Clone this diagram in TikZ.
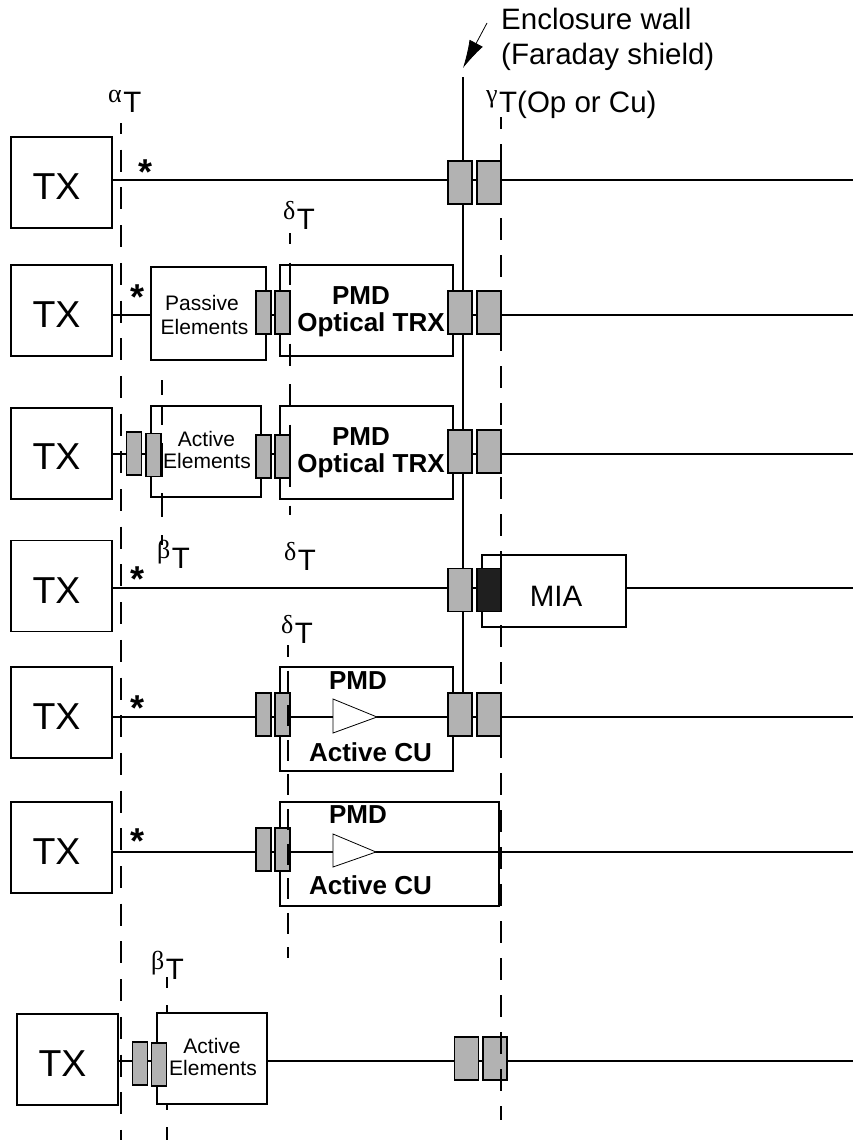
\documentclass[tikz,border=0pt]{standalone}
\usepackage{fontspec}
\setmainfont{Liberation Sans}
\newfontfamily\greekfont{Liberation Serif}
\usepackage{tikz}
\usetikzlibrary{positioning, arrows.meta}

\tikzset{
    boxnode/.style={draw=black, line width=1.8pt, fill=white, inner sep=0pt},
    connbig/.style={draw=black, line width=1.8pt, fill=black!30, inner sep=0pt, minimum width=24pt, minimum height=43pt},
    connsmall/.style={draw=black, line width=1.8pt, fill=black!30, inner sep=0pt, minimum width=15pt, minimum height=43pt},
    wire/.style={line width=1.8pt},
    dashline/.style={line width=1.6pt},
    labelbig/.style={inner sep=0pt, anchor=base, font=\fontsize{37.5}{37.5}\selectfont},
    labelmid/.style={inner sep=0pt, anchor=base, font=\fontsize{29.5}{29.5}\selectfont},
    labelbold/.style={inner sep=0pt, anchor=base, font=\fontsize{26}{26}\selectfont\bfseries},
    labelsmall/.style={inner sep=0pt, anchor=base, font=\fontsize{21}{21}\selectfont},
    starlabel/.style={inner sep=0pt, anchor=base, font=\fontsize{36}{36}\selectfont\bfseries},
    reflabel/.style={inner sep=0pt, anchor=base west, font=\fontsize{29.5}{29.5}\selectfont}
}
\newcommand{\refsym}[1]{\raisebox{10pt}{\greekfont\fontsize{26}{26}\selectfont #1}\hspace{1.5pt}}

\begin{document}
\begin{tikzpicture}[x=1pt, y=-1pt]
    \useasboundingbox (0,0) rectangle (853,1140);
    % --- right ends of the rows ---
    \foreach \n/\y in {1/180, 2/315, 3/454, 4/588, 5/717, 6/852, 7/1061} {
        \coordinate (end\n) at (853,\y);
    }
    % --- TX boxes ---
    \foreach \n/\x/\y in {1/61.5/182.5, 2/61.5/310.5, 3/61.5/453.5, 4/61.5/586, 5/61.5/712.5, 6/61.5/847.5, 7/67.5/1059.5} {
        \node[boxnode, minimum width=101pt, minimum height=91pt] (tx\n) at (\x,\y) {};
    }
    % --- inner boxes ---
    \node[boxnode, minimum width=115pt, minimum height=93pt] (passive) at (208.5,313.5) {};
    \node[boxnode, minimum width=173pt, minimum height=91pt] (trxone) at (366.5,310.5) {};
    \node[boxnode, minimum width=110pt, minimum height=91pt] (activeone) at (206,451.5) {};
    \node[boxnode, minimum width=173pt, minimum height=93pt] (trxtwo) at (366.5,452.5) {};
    \node[boxnode, minimum width=144pt, minimum height=72pt] (mia) at (554,591) {};
    \node[boxnode, minimum width=173pt, minimum height=104pt] (cuone) at (366.5,719) {};
    \node[boxnode, minimum width=219pt, minimum height=104pt] (cutwo) at (389.5,854) {};
    % --- dashed beta line under the lower active box ---
    \foreach \a/\b in {977/988, 1005/1013, 1104/1110, 1127/1140} {
        \draw[dashline] (167,\a) -- (167,\b);
    }
    \node[boxnode, minimum width=110pt, minimum height=91pt] (activetwo) at (212,1058.5) {};
    % --- connectors ---
    \foreach \n/\x/\y in {c1a/460/182.5, c1b/489/182.5, c2a/460/312.5, c2b/489/312.5, c3a/460/451.5, c3b/489/451.5,
        c4a/460/590, c5a/460/714.5, c5b/489/714.5, c7a/466.5/1058.5, c7b/495/1058.5} {
        \node[connbig] (\n) at (\x,\y) {};
    }
    \node[connbig, fill=black!88] (c4b) at (489,590) {};
    \foreach \n/\x/\y in {c2s/263.5/312.5, c2t/282.5/312.5, c3l/134/453.5, c3m/153.5/455, c3s/263.5/456.5, c3t/282.5/456.5,
        c5s/263.5/714.5, c5t/282.5/714.5, c6s/263.5/849.5, c6t/282.5/849.5, c7l/140/1063.5, c7m/159/1064.5} {
        \node[connsmall] (\n) at (\x,\y) {};
    }
    % --- wall and wires ---
    \coordinate (walltop) at (463,77);
    \draw[wire] (walltop) -- (walltop |- c1a.north);
    \foreach \a/\b in {c1a/c2a, c2a/c3a, c3a/c4a, c4a/c5a} {
        \draw[wire] (walltop |- \a.south) -- (walltop |- \b.north);
    }
    \foreach \a/\b/\e in {tx1/c1a/1, c1a/c1b/1, tx2/passive/2, c2s/c2t/2, c2a/c2b/2, tx3/c3l/3, c3l/c3m/3, c3s/c3t/3, c3a/c3b/3,
        tx4/c4a/4, c4a/c4b/4, tx5/c5s/5, c5s/c5t/5, c5t/c5a/5, c5a/c5b/5, tx6/c6s/6, c6s/c6t/6, tx7/c7l/7, c7l/c7m/7,
        activetwo/c7a/7, c7a/c7b/7} {
        \draw[wire] (\a.east |- end\e) -- (\b.west |- end\e);
    }
    \foreach \a/\e in {c1b/1, c2b/2, c3b/3, mia/4, c5b/5, c6t/6, c7b/7} {
        \draw[wire] (\a.east |- end\e) -- (end\e);
    }
    % --- amplifiers ---
    \filldraw[fill=white, line width=0.8pt] (333,699) -- (377,717) -- (333,733) -- cycle;
    \filldraw[fill=white, line width=0.8pt] (333,834) -- (376,852) -- (333,867) -- cycle;
    % --- dashed reference lines ---
    \draw[dashline, dash pattern=on 22pt off 15.7pt, dash phase=11pt] (121,123) -- (121,1140);
    \draw[dashline, dash pattern=on 22pt off 15pt, dash phase=10pt] (501,117) -- (501,1120);
    \draw[dashline, dash pattern=on 22pt off 18.5pt, dash phase=11pt] (290,233) -- (290,515);
    \draw[dashline, dash pattern=on 21pt off 13.6pt, dash phase=9pt] (288,645) -- (288,958);
    \foreach \a/\b in {380/395, 405/425, 443/477, 493/517, 535/545} {
        \draw[dashline] (162,\a) -- (162,\b);
    }
    % --- wall arrow ---
    \coordinate (arrowtail) at (487,23);
    \coordinate (arrowtip) at (463,68);
    \draw[-{Latex[length=28pt,width=15pt]}, line width=0.8pt] (arrowtail) -- (arrowtip);
    % --- labels ---
    \foreach \n/\x/\y in {1/56.5/199, 2/56.5/327, 3/56.5/469, 4/56.5/603, 5/56.5/729, 6/56.5/864, 7/62.5/1076} {
        \node[labelbig] (txt\n) at (\x,\y) {TX};
    }
    \node[labelmid, anchor=base west] (wallone) at (501,30) {Enclosure wall};
    \node[labelmid, anchor=base west] (walltwo) at (501,65) {(Faraday shield)};
    \node[reflabel] (alphat) at (108,112) {\refsym{α}T};
    \node[reflabel] (gammat) at (486,112) {\refsym{γ}T(Op or Cu)};
    \node[reflabel] (deltaone) at (283,229) {\refsym{δ}T};
    \node[reflabel] (betaone) at (157,568) {\refsym{β}T};
    \node[reflabel] (deltatwo) at (284,570) {\refsym{δ}T};
    \node[reflabel] (deltathree) at (281,643) {\refsym{δ}T};
    \node[reflabel] (betatwo) at (151,979) {\refsym{β}T};
    \foreach \n/\x/\y in {1/145.5/184, 2/138/309, 4/138/591, 5/138/720, 6/138/853} {
        \node[starlabel] (star\n) at (\x,\y) {*};
    }
    \node[labelsmall] (pas) at (202,310) {Passive};
    \node[labelsmall] (pasel) at (204.5,334) {Elements};
    \node[labelsmall] (act) at (206.5,446) {Active};
    \node[labelsmall] (actel) at (207,468) {Elements};
    \node[labelsmall] (acttwo) at (212,1053) {Active};
    \node[labelsmall] (acttwoel) at (213,1075) {Elements};
    \node[labelbold] (pmdone) at (361,304) {PMD};
    \node[labelbold] (optone) at (371,331) {Optical TRX};
    \node[labelbold] (pmdtwo) at (361,445) {PMD};
    \node[labelbold] (opttwo) at (371,472) {Optical TRX};
    \node[labelbold] (pmdthree) at (358,689) {PMD};
    \node[labelbold] (activecuone) at (370.5,761) {Active CU};
    \node[labelbold] (pmdfour) at (358,823) {PMD};
    \node[labelbold] (activecutwo) at (370.5,894) {Active CU};
    \node[labelmid] (miatxt) at (556,606) {MIA};
\end{tikzpicture}
\end{document}
